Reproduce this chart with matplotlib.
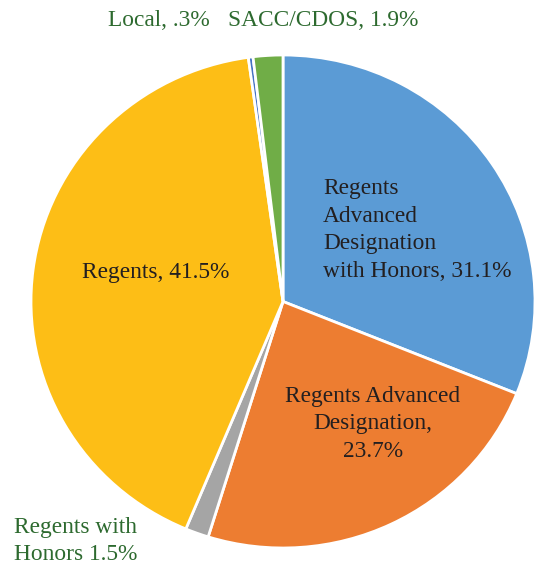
import matplotlib
matplotlib.use("Agg")
import matplotlib.pyplot as plt

# Diploma types, clockwise from 12 o'clock
labels = ["Regents Advanced Designation with Honors", "Regents Advanced Designation",
          "Regents with Honors", "Regents", "Local", "SACC/CDOS"]
shares = [31.1, 23.7, 1.5, 41.5, 0.3, 1.9]
colors = ["#5B9BD5", "#ED7D31", "#A5A5A5", "#FDBE16", "#4472C4", "#70AD47"]

W, H = 539, 567
fig = plt.figure(figsize=(W / 100, H / 100), dpi=100)

# pie is a touch wider than tall in the original
cx, cy, rx, ry = 283, 301.5, 252, 246.5
ax = fig.add_axes([(cx - rx) / W, 1 - (cy + ry) / H, 2 * rx / W, 2 * ry / H])
ax.pie(shares, colors=colors, startangle=90, counterclock=False, radius=1,
       wedgeprops=dict(edgecolor="white", linewidth=2))
ax.set_aspect("auto")
ax.set_xlim(-1, 1)
ax.set_ylim(-1, 1)
ax.axis("off")

font = "Liberation Serif"
inner = "#231F20"
outer = "#2D6A2F"
fs = 16.8

def ftext(px, py, s, **kw):
    fig.text(px / W, 1 - py / H, s, family=font, fontsize=fs, linespacing=1.42, **kw)

ftext(323, 230, "Regents\nAdvanced\nDesignation\nwith Honors, " + f"{shares[0]}%",
      ha="left", va="center", color=inner)
ftext(373, 424, "Regents Advanced\nDesignation,\n" + f"{shares[1]}%",
      ha="center", va="center", color=inner, multialignment="center")
ftext(156, 273, f"Regents, {shares[3]}%", ha="center", va="center", color=inner)
ftext(108, 20, "Local, .3%", ha="left", va="center", color=outer)
ftext(228, 20, f"SACC/CDOS, {shares[5]}%", ha="left", va="center", color=outer)
ftext(14, 541, f"Regents with\nHonors {shares[2]}%", ha="left", va="center", color=outer)

fig.savefig("out.png", dpi=100)
